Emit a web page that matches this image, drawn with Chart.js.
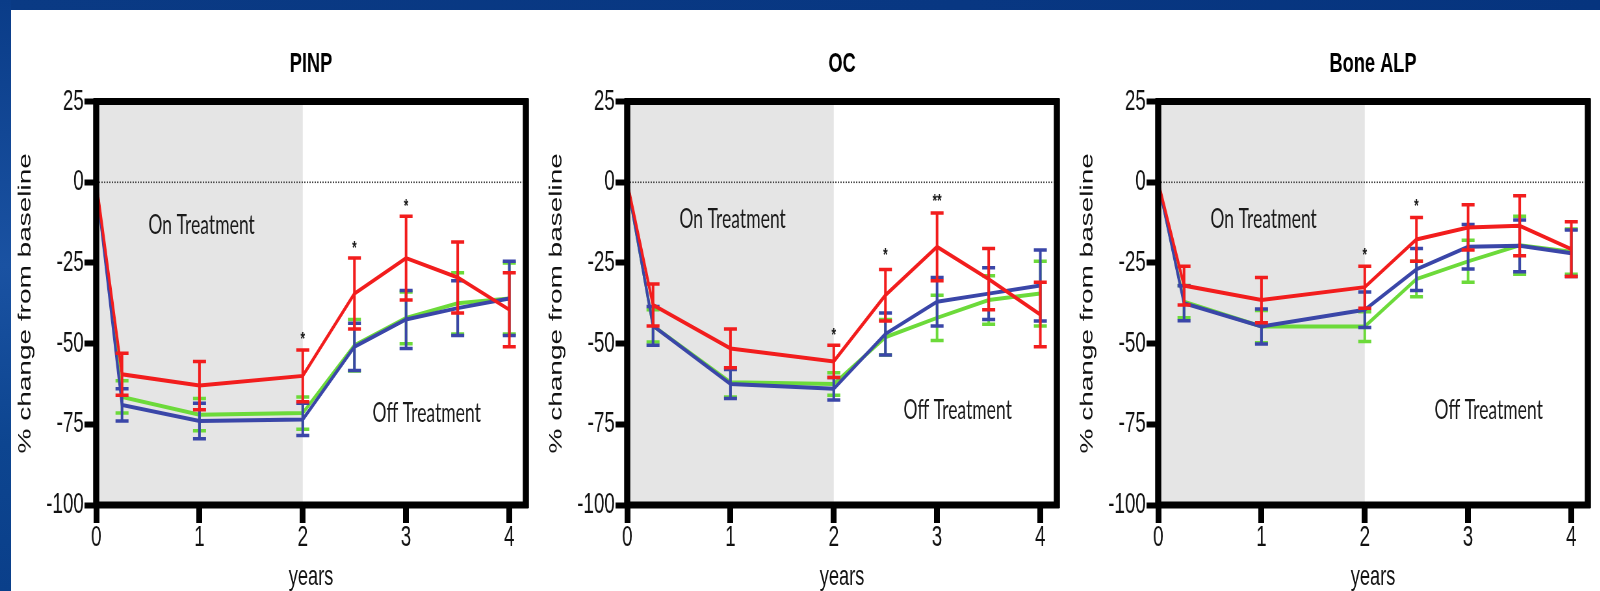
<!DOCTYPE html>
<html>
<head>
<meta charset="utf-8">
<script src="https://cdn.jsdelivr.net/npm/chart.js@4.4.1/dist/chart.umd.min.js"></script>
<style>
  body { margin: 0; width: 1600px; height: 591px; background: #fff; position: relative; overflow: hidden; }
  #topbar { position: absolute; left: 0; top: 0; width: 1600px; height: 10px; background: linear-gradient(90deg, #0a3a84, #083782 60%, #06347e); }
  #leftbar { position: absolute; left: 0; top: 0; width: 11px; height: 591px; background: linear-gradient(180deg, #0a3c88, #1a52a2 45%, #0d4590 75%, #0a3f8a); }
  canvas.panel { position: absolute; top: 0; width: 816px; height: 591px; transform-origin: 0 0; transform: scaleX(0.65); }
</style>
</head>
<body>
<div id="topbar"></div>
<div id="leftbar"></div>
<canvas class="panel" id="pinpChart" width="816" height="591" style="left:0px"></canvas>
<canvas class="panel" id="ocChart" width="816" height="591" style="left:531px"></canvas>
<canvas class="panel" id="balpChart" width="816" height="591" style="left:1062px"></canvas>
<script>
// shared axes
const years = [0, 0.25, 1, 2, 2.5, 3, 3.5, 4];
const xTicks = [0, 1, 2, 3, 4];
const yTicks = [25, 0, -25, -50, -75, -100];
const titles = ['PINP', 'OC', 'Bone ALP'];
const noteX = [1.02, 3.2];
const noteText = ['On Treatment', 'Off Treatment'];

// PINP
const pinpRed = [0, -59.5, -63, -60, -34.5, -23.5, -29.5, -39.5];
const pinpRedErr = [0, 6.5, 7.5, 8, 11, 13, 11, 11.5];
const pinpGreen = [0, -66.5, -72, -71.5, -50.5, -42, -37.5, -36];
const pinpGreenErr = [0, 5, 5, 5, 8, 8, 9.5, 11];
const pinpBlue = [0, -69, -74, -73.5, -51, -42.5, -39, -36];
const pinpBlueErr = [0, 5, 5.5, 5, 7.3, 9, 8.5, 11.5];
const pinpStarX = [2, 2.5, 3];
const pinpStarY = [-47.5, -19.5, -6.5];
const pinpStarText = ['*', '*', '*'];
const pinpNoteY = [-13.4, -71.6];

// OC
const ocRed = [0, -38, -51.5, -55.5, -35, -20, -30, -41];
const ocRedErr = [0, 6.5, 6, 5, 8, 10.5, 9.5, 10];
const ocGreen = [0, -44.5, -62, -62.5, -48, -42, -36.5, -34.5];
const ocGreenErr = [0, 5, 4.5, 3.5, 5.5, 7, 7.5, 10];
const ocBlue = [0, -44.5, -62.5, -64, -47, -37, -34.5, -32];
const ocBlueErr = [0, 6, 4.5, 3.5, 6.5, 7.5, 8, 11];
const ocStarX = [2, 2.5, 3];
const ocStarY = [-46.5, -21.5, -5];
const ocStarText = ['*', '*', '**'];
const ocNoteY = [-11.6, -70.5];

// Bone ALP
const balpRed = [0, -32, -36.5, -32.5, -17.7, -14, -13.5, -20.7];
const balpRedErr = [0, 6, 7, 6.5, 6.8, 7, 9.3, 8.5];
const balpGreen = [0, -37, -44.7, -44.7, -30, -24.5, -19.5, -21.5];
const balpGreenErr = [0, 5, 5, 4.6, 5.5, 6.5, 9, 7];
const balpBlue = [0, -37.5, -44.7, -39.5, -27, -20, -19.7, -22];
const balpBlueErr = [0, 5.4, 5.4, 5.5, 6.5, 6.9, 8, 7.2];
const balpStarX = [2, 2.5];
const balpStarY = [-21.5, -6.5];
const balpStarText = ['*', '*'];
const balpNoteY = [-11.6, -70.5];

const RED = '#f21d1d';
const GREEN = '#6cda3a';
const BLUE = '#3a46a8';
const FONT = '"Liberation Sans", Arial, Helvetica, sans-serif';
const NOTE_FONT = 'Lato, "Open Sans", sans-serif';

// shading, zero line, error bars, frame and annotations
const decor = {
  id: 'decor',
  beforeDraw(chart) {
    const {ctx, chartArea: a, scales: {x, y}} = chart;
    ctx.save();
    ctx.fillStyle = '#e5e5e5';
    const x0 = x.getPixelForValue(0), x1 = x.getPixelForValue(2);
    ctx.fillRect(x0, a.top, x1 - x0, a.bottom - a.top);
    const y0 = y.getPixelForValue(0);
    ctx.strokeStyle = '#444';
    ctx.lineWidth = 1.6;
    ctx.setLineDash([2, 2]);
    ctx.beginPath();
    ctx.moveTo(a.left, y0);
    ctx.lineTo(a.right, y0);
    ctx.stroke();
    ctx.restore();
  },
  afterDatasetDraw(chart, args) {
    const ds = chart.data.datasets[args.index];
    const {ctx, scales: {x, y}} = chart;
    ctx.save();
    ctx.strokeStyle = ds.borderColor;
    ds.data.forEach((p, i) => {
      const e = ds.errors[i];
      if (!e) return;
      const px = x.getPixelForValue(p.x);
      const top = y.getPixelForValue(p.y + e);
      const bot = y.getPixelForValue(p.y - e);
      ctx.lineWidth = 4;
      ctx.beginPath();
      ctx.moveTo(px, top);
      ctx.lineTo(px, bot);
      ctx.stroke();
      ctx.lineWidth = 3.5;
      ctx.beginPath();
      ctx.moveTo(px - 10, top); ctx.lineTo(px + 10, top);
      ctx.moveTo(px - 10, bot); ctx.lineTo(px + 10, bot);
      ctx.stroke();
    });
    ctx.restore();
  },
  afterDraw(chart, args, opts) {
    const {ctx, chartArea: a, scales: {x, y}} = chart;
    ctx.save();
    ctx.strokeStyle = '#000';
    ctx.lineWidth = 7;
    ctx.beginPath();
    ctx.moveTo(a.left - 4, a.top); ctx.lineTo(a.right + 4, a.top);
    ctx.moveTo(a.left - 4, a.bottom); ctx.lineTo(a.right + 4, a.bottom);
    ctx.stroke();
    ctx.lineWidth = 9.5;
    ctx.beginPath();
    ctx.moveTo(a.left, a.top - 3); ctx.lineTo(a.left, a.bottom + 3);
    ctx.moveTo(a.right, a.top - 3); ctx.lineTo(a.right, a.bottom + 3);
    ctx.stroke();

    ctx.fillStyle = '#1a1a1a';
    ctx.textAlign = 'center';
    ctx.textBaseline = 'middle';
    ctx.font = '27px ' + NOTE_FONT;
    opts.noteY.forEach((v, i) => {
      ctx.fillText(noteText[i], x.getPixelForValue(noteX[i]), y.getPixelForValue(v));
    });
    ctx.font = 'bold 18px ' + FONT;
    opts.starX.forEach((v, i) => {
      ctx.fillText(opts.starText[i], x.getPixelForValue(v), y.getPixelForValue(opts.starY[i]) + 4);
    });
    ctx.restore();
  }
};

function series(label, values, errors, color) {
  return {
    label: label,
    data: years.map((yr, i) => ({x: yr, y: values[i]})),
    errors: errors,
    borderColor: color,
    backgroundColor: color,
    borderWidth: 4,
    pointRadius: 0,
    tension: 0,
    fill: false
  };
}

function makeChart(id, title, datasets, notesY, starX, starY, starText) {
  new Chart(document.getElementById(id), {
    type: 'line',
    data: {datasets: datasets},
    options: {
      responsive: false,
      animation: false,
      devicePixelRatio: 1,
      layout: {padding: {left: 0, right: 7, top: 0, bottom: 0}},
      plugins: {
        legend: {display: false},
        tooltip: {enabled: false},
        title: {
          display: true,
          text: title,
          fullSize: false,
          color: '#000',
          font: {family: FONT, size: 28, weight: 'bold', lineHeight: 1.2},
          padding: {top: 47, bottom: 21}
        },
        decor: {noteY: notesY, starX: starX, starY: starY, starText: starText}
      },
      scales: {
        x: {
          type: 'linear',
          min: 0,
          max: 4.16,
          afterBuildTicks: s => { s.ticks = xTicks.map(v => ({value: v})); },
          afterFit: s => { s.height = 86; },
          border: {display: false},
          grid: {drawOnChartArea: false, drawTicks: true, tickLength: 18, tickWidth: 9, tickColor: '#000'},
          ticks: {color: '#111', font: {family: FONT, size: 29, lineHeight: 1}, padding: 0, maxRotation: 0, autoSkip: false},
          title: {display: true, text: 'years', color: '#111', font: {family: FONT, size: 28, lineHeight: 1}, padding: {top: 0, bottom: 0}}
        },
        y: {
          type: 'linear',
          min: -100,
          max: 25,
          afterBuildTicks: s => { s.ticks = yTicks.map(v => ({value: v})); },
          afterFit: s => { s.width = 148; },
          border: {display: false},
          grid: {drawOnChartArea: false, drawTicks: true, tickLength: 18, tickWidth: 6, tickColor: '#000'},
          ticks: {color: '#111', font: {family: FONT, size: 29, lineHeight: 1}, padding: 1},
          title: {display: true, text: '% change from baseline', color: '#111', font: {family: FONT, size: 28, lineHeight: 1.2}, padding: {top: 22, bottom: 0}}
        }
      }
    },
    plugins: [decor]
  });
}

// dataset 0 is drawn on top: red, then blue, then green underneath
makeChart('pinpChart', titles[0], [
  series('red', pinpRed, pinpRedErr, RED),
  series('blue', pinpBlue, pinpBlueErr, BLUE),
  series('green', pinpGreen, pinpGreenErr, GREEN)
], pinpNoteY, pinpStarX, pinpStarY, pinpStarText);

makeChart('ocChart', titles[1], [
  series('red', ocRed, ocRedErr, RED),
  series('blue', ocBlue, ocBlueErr, BLUE),
  series('green', ocGreen, ocGreenErr, GREEN)
], ocNoteY, ocStarX, ocStarY, ocStarText);

makeChart('balpChart', titles[2], [
  series('red', balpRed, balpRedErr, RED),
  series('blue', balpBlue, balpBlueErr, BLUE),
  series('green', balpGreen, balpGreenErr, GREEN)
], balpNoteY, balpStarX, balpStarY, balpStarText);
</script>
</body>
</html>
